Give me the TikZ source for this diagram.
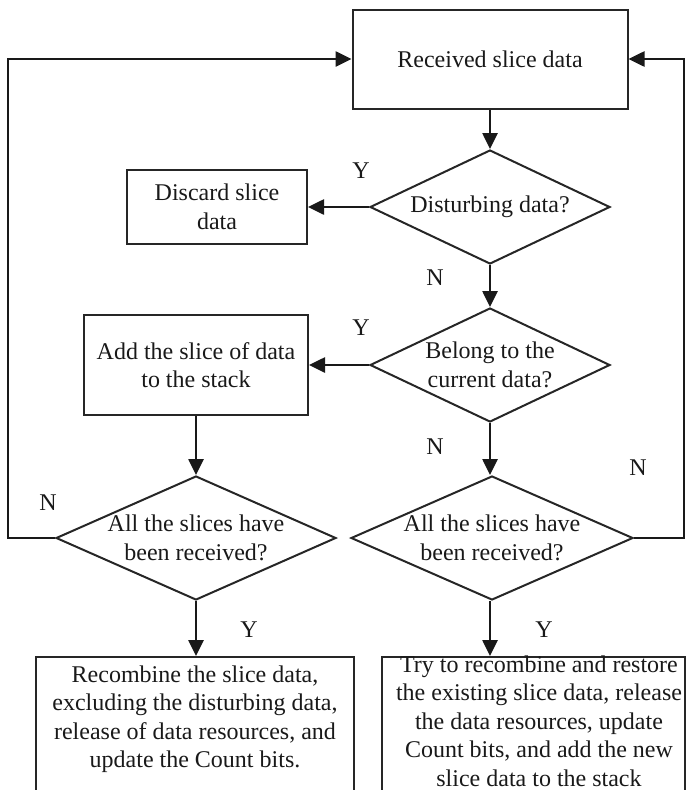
\documentclass[tikz,border=0pt]{standalone}
\usepackage{fontspec}
\setmainfont{Liberation Serif}
\usetikzlibrary{arrows.meta,shapes.geometric}
\begin{document}
\begin{tikzpicture}[x=1pt,y=-1pt,
  txt/.style={font=\fontsize{24}{28.5}\selectfont, text=black!90, align=center, inner sep=0pt},
  boxnode/.style={draw=black!85, line width=2pt, inner sep=0pt},
  dia/.style={draw=black!85, line width=2pt, diamond, inner sep=0pt},
  conn/.style={line width=2.6pt, draw=black!90, -{Triangle[length=16pt,width=15pt]}}
]
\useasboundingbox (0,0) rectangle (687,790);
\clip (0,0) rectangle (687,790);

% boxes
\node[boxnode, txt, minimum width=275pt, minimum height=99pt] (top) at (490,59) {Received slice data};
\node[boxnode, txt, minimum width=180pt, minimum height=74pt] (disc) at (217,207) {Discard slice\\data};
\node[boxnode, txt, minimum width=224pt, minimum height=100pt] (add) at (196,365) {Add the slice of data\\to the stack};

% diamonds
\node[dia, minimum width=240pt, minimum height=114pt] (d1) at (490,207) {};
\node[txt] (d1t) at (d1) {Disturbing data?};
\node[dia, minimum width=240pt, minimum height=114pt] (d2) at (490,365) {};
\node[txt] (d2t) at (d2) {Belong to the\\current data?};
\node[dia, minimum width=280pt, minimum height=124pt] (d3) at (196,538) {};
\node[txt] (d3t) at (d3) {All the slices have\\been received?};
\node[dia, minimum width=282pt, minimum height=124pt] (d4) at (492,538) {};
\node[txt] (d4t) at (d4) {All the slices have\\been received?};

% bottom boxes (cut off by the frame)
\node[boxnode, anchor=north, minimum width=318pt, minimum height=170pt] (bl) at (195,656) {};
\node[txt, anchor=north] (blt) at (195,665.6) {Recombine the slice data,\\excluding the disturbing data,\\release of data resources, and\\update the Count bits.};
\node[boxnode, anchor=north, minimum width=303pt, minimum height=170pt] (br) at (533.5,656) {};
\node[txt, anchor=north] (brt) at (539,655.5) {Try to recombine and restore\\the existing slice data, release\\the data resources, update\\Count bits, and add the new\\slice data to the stack};

% loop rails
\coordinate (lc) at (8,0);
\coordinate (rc) at (684,0);

% connectors
\draw[conn] (top.south) -- (d1.north);
\draw[conn] (d1.west) -- (disc.east);
\draw[conn] (d1.south) -- (d2.north);
\draw[conn] (d2.west) -- (add.east);
\draw[conn] (add.south) -- (d3.north);
\draw[conn] (d2.south) -- (d2.south |- d4.north);
\draw[conn] (d3.south) -- (d3.south |- bl.north);
\draw[conn] (d4.south -| d2.south) -- (d2.south |- br.north);
\draw[conn] (d3.west) -- (d3.west -| lc) |- (top.west);
\draw[conn] (d4.east) -- (d4.east -| rc) |- (top.east);

% labels
\node[txt] (y1) at (361,171) {Y};
\node[txt] (n1) at (435,278) {N};
\node[txt] (y2) at (361,328) {Y};
\node[txt] (n2) at (435,447) {N};
\node[txt] (n3) at (48,503) {N};
\node[txt] (n4) at (638,468) {N};
\node[txt] (y3) at (249,630) {Y};
\node[txt] (y4) at (544,630) {Y};
\end{tikzpicture}
\end{document}
